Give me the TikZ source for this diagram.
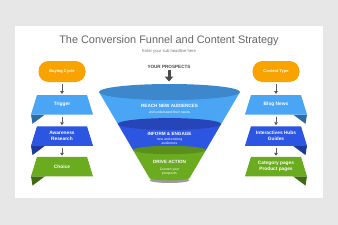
\documentclass[tikz,border=0pt]{standalone}
\usepackage{fontspec}
\setmainfont{Liberation Sans}
\usetikzlibrary{arrows.meta}
\definecolor{bgc}{HTML}{E8E7E8}
\definecolor{titlec}{HTML}{666666}
\definecolor{subc}{HTML}{7A7A7A}
\definecolor{orangec}{HTML}{F9A300}
\definecolor{lblue}{HTML}{4AA6F5}
\definecolor{lbluefold}{HTML}{2F6AA3}
\definecolor{mblue}{HTML}{2C56E2}
\definecolor{mbluefold}{HTML}{1D3A9B}
\definecolor{greenc}{HTML}{6AAB1F}
\definecolor{greenfold}{HTML}{3E6A12}
\definecolor{ellone}{HTML}{3D87CD}
\definecolor{elltwo}{HTML}{2645B8}
\definecolor{ellthree}{HTML}{5B8F1B}
\definecolor{arrowc}{HTML}{5A5A5A}
\definecolor{prosc}{HTML}{4A4A4A}
\definecolor{shadowc}{HTML}{9C9C9C}

\newcommand\ribbonbox[7]{%
  \fill[#5] ({#2+(#6)*31},{#3+19.5}) -- ({#2+(#6)*17},{#3+19.5}) -- ({#2+(#6)*29.5},{#3+28.8}) -- cycle;
  \fill[#4] ({#2-25},#3) -- ({#2+25},#3) -- ({#2+31},{#3+19.5}) -- ({#2-31},{#3+19.5}) -- cycle;
  \node[ribbontext] (#1) at (#2,{#3+9.75}) {#7};}

\tikzset{
  ribbontext/.style={font=\bfseries\fontsize{4.8}{5.8}\selectfont, text=white, align=center,
    minimum width=50pt, minimum height=19.5pt, inner sep=0pt},
  pill/.style={fill=orangec, rounded corners=10pt, minimum width=47pt, minimum height=21pt,
    inner sep=0pt, text=white, font=\bfseries\fontsize{4}{5}\selectfont},
  flow/.style={draw=arrowc, line width=0.8pt, -{Triangle[length=3pt,width=3.6pt]},
    shorten <=1.8pt, shorten >=0.8pt},
  fhead/.style={text=white, font=\bfseries\fontsize{4.6}{5.5}\selectfont, inner sep=0pt},
  fsub/.style={text=white, font=\fontsize{3.4}{4.2}\selectfont, align=center, inner sep=0pt},
}

\begin{document}
\begin{tikzpicture}[x=1pt,y=-1pt]
\useasboundingbox (0,0) rectangle (338,225);
\fill[bgc] (0,0) rectangle (338,225);
\fill[white] (15,26) rectangle (322.5,198);

% titles
\node[anchor=base, text=titlec, font=\fontsize{10.9}{13}\selectfont, inner sep=0pt] (title) at (169,43.6) {The Conversion Funnel and Content Strategy};
\node[text=subc, font=\fontsize{4.2}{5}\selectfont, inner sep=0pt] (subtitle) at (169,51.6) {Enter your sub headline here};

% left column
\node[pill] (buy) at (62,71.5) {Buying Cycle};
\ribbonbox{trig}{62}{95}{lblue}{lbluefold}{-1}{Trigger}
\ribbonbox{aware}{62}{126.3}{mblue}{mbluefold}{-1}{Awareness\\Research}
\ribbonbox{choice}{62}{156.8}{greenc}{greenfold}{-1}{Choice}
\draw[flow] (buy) -- (trig);
\draw[flow] (trig) -- (aware);
\draw[flow] (aware) -- (choice);

% right column
\node[pill] (ctype) at (276,71.5) {Content Type};
\ribbonbox{blog}{276}{95}{lblue}{lbluefold}{1}{Blog News}
\ribbonbox{hubs}{276}{126.3}{mblue}{mbluefold}{1}{Interactives Hubs\\Guides}
\ribbonbox{cat}{276}{156.8}{greenc}{greenfold}{1}{Category pages\\Product pages}
\draw[flow] (ctype) -- (blog);
\draw[flow] (blog) -- (hubs);
\draw[flow] (hubs) -- (cat);

% funnel
\node[text=prosc, font=\bfseries\fontsize{4.6}{5.5}\selectfont, inner sep=0pt] (pros) at (169,66.7) {YOUR PROSPECTS};
\coordinate (ftop) at (169,81.5);
\draw[prosc, line width=3pt, -{Triangle[length=5pt,width=8.5pt]}, shorten <=1.8pt] (pros) -- (ftop);

% section 1
\fill[lblue] (99,92) -- (117.8,124) -- (221.2,124) -- (240,92) -- cycle;
\fill[lblue] (169.5,124) ellipse[x radius=51.7pt, y radius=5.9pt];
\fill[ellone] (169.5,92) ellipse[x radius=70.5pt, y radius=8pt];
% section 2
\fill[mblue] (117.8,124) -- (133,150) -- (206,150) -- (221.2,124) -- cycle;
\fill[mblue] (169.5,150) ellipse[x radius=36.5pt, y radius=4.2pt];
\fill[elltwo] (169.5,124) ellipse[x radius=51.7pt, y radius=5.9pt];
% section 3
\fill[shadowc] (169.5,180.2) ellipse[x radius=20pt, y radius=2.8pt];
\fill[greenc] (133,150) -- (149.4,178) -- (189.6,178) -- (206,150) -- cycle;
\fill[greenc] (169.5,178) ellipse[x radius=20.1pt, y radius=2.3pt];
\fill[ellthree] (169.5,150) ellipse[x radius=36.5pt, y radius=4.2pt];

\node[fhead] (reach) at (169.5,106) {REACH NEW AUDIENCES};
\node[fsub] (reachsub) at (169.5,112.3) {and understand their needs};
\node[fhead] (inform) at (169.5,133.5) {INFORM \& ENGAGE};
\node[fsub] (informsub) at (169.5,141.4) {new and existing\\audiences};
\node[fhead] (drive) at (169.5,161.7) {DRIVE ACTION};
\node[fsub] (drivesub) at (169.5,171.3) {Convert your\\prospects};
\end{tikzpicture}
\end{document}
